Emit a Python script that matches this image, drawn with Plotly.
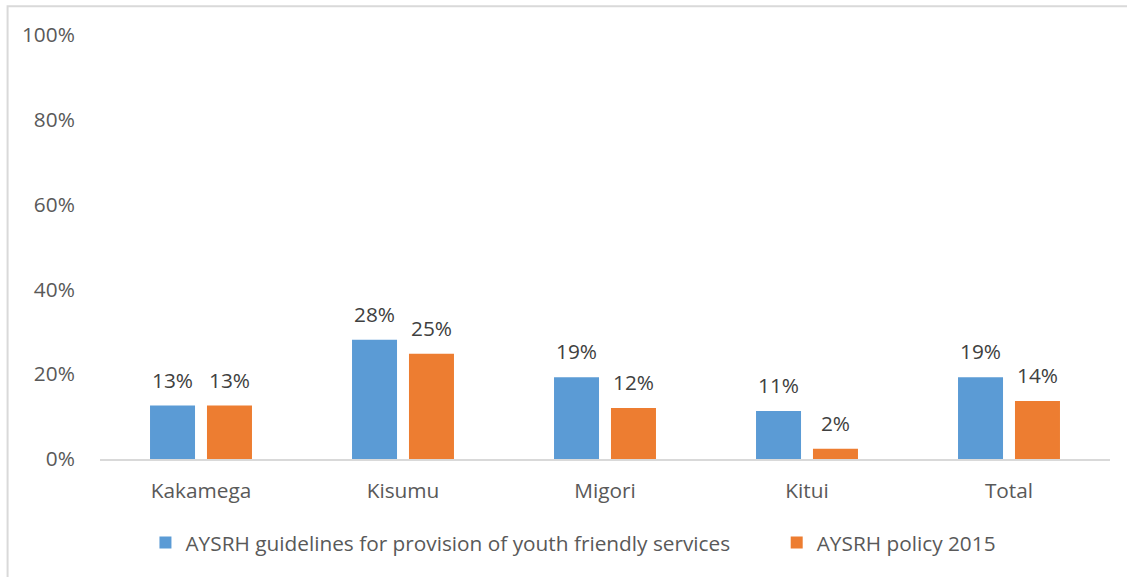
import plotly.graph_objects as go

counties = ["Kakamega", "Kisumu", "Migori", "Kitui", "Total"]
guidelines = [0.126, 0.281, 0.193, 0.113, 0.193]
policy = [0.126, 0.248, 0.120, 0.024, 0.137]
series_names = ["AYSRH guidelines for provision of youth friendly services", "AYSRH policy 2015"]
y_ticks = [0, 0.2, 0.4, 0.6, 0.8, 1.0]

FONT = "Open Sans"
FS = 20.8
BLUE = "#5B9BD5"
ORANGE = "#ED7D31"
GAP = 0.436

fig = go.Figure()
series = [(series_names[0], guidelines, BLUE, "legend", "g1"),
          (series_names[1], policy, ORANGE, "legend2", "g2")]
for name, vals, col, leg, grp in series:
    fig.add_trace(go.Bar(
        x=counties, y=vals, name=name, legend=leg, offsetgroup=grp,
        marker=dict(color=col, line=dict(width=0)),
        hoverinfo="skip",
    ))
# value labels sit above each bar, grouped the same way as the bars
for name, vals, col, leg, grp in series:
    fig.add_trace(go.Scatter(
        x=counties, y=vals, mode="markers+text", offsetgroup=grp,
        marker=dict(size=19, opacity=0),
        texttemplate="%{y:.0%}", textposition="top center",
        textfont=dict(family=FONT, size=FS, color="#404040"),
        showlegend=False, cliponaxis=False, hoverinfo="skip",
    ))

legend_common = dict(orientation="h", xanchor="left", y=-0.15, yanchor="top",
                     font=dict(family=FONT, size=FS, color="#595959"),
                     itemwidth=30, bgcolor="rgba(0,0,0,0)")

fig.update_layout(
    width=1127, height=577,
    margin=dict(l=100, r=17, t=35, b=118),
    paper_bgcolor="white", plot_bgcolor="white",
    barmode="group", bargap=GAP, bargroupgap=0.21,
    scattermode="group", scattergap=GAP,
    font=dict(family=FONT, size=FS, color="#595959"),
    showlegend=True,
    legend=dict(x=0.045, **legend_common),
    legend2=dict(x=0.67, **legend_common),
    xaxis=dict(showline=True, linecolor="#D9D9D9", linewidth=2, showgrid=False,
               ticks="outside", ticklen=12, tickcolor="rgba(0,0,0,0)",
               tickfont=dict(family=FONT, size=FS, color="#595959")),
    yaxis=dict(range=[0, 1], tickvals=y_ticks, tickformat=".0%", showgrid=False,
               zeroline=False, showline=False,
               ticks="outside", ticklen=20, tickcolor="rgba(0,0,0,0)",
               tickfont=dict(family=FONT, size=FS, color="#595959")),
    shapes=[dict(type="rect", xref="paper", yref="paper",
                 x0=-0.0915, x1=1.2, y0=-0.5, y1=1.068,
                 line=dict(color="#D9D9D9", width=2), layer="below")],
)

fig.write_html("out.html")
